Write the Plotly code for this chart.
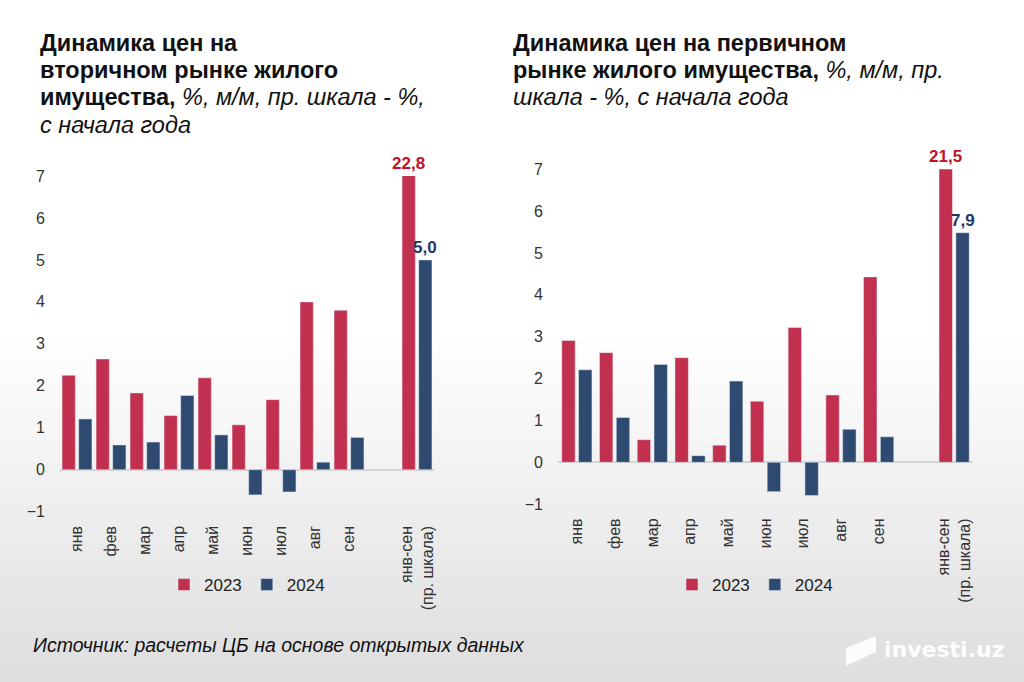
import plotly.graph_objects as go

# ---------------- data ----------------
months = ["янв", "фев", "мар", "апр", "май", "июн", "июл", "авг", "сен"]
total_label = "янв-сен<br>(пр. шкала)"
years = ["2023", "2024"]

# secondary market (left chart), % m/m
sec_2023 = [2.25, 2.64, 1.83, 1.29, 2.19, 1.07, 1.67, 4.00, 3.80]
sec_2024 = [1.21, 0.59, 0.66, 1.77, 0.83, -0.60, -0.53, 0.18, 0.77]
sec_cum = [22.8, 5.0]   # right scale, % since start of year

# primary market (right chart), % m/m
pri_2023 = [2.91, 2.62, 0.54, 2.50, 0.41, 1.46, 3.22, 1.61, 4.43]
pri_2024 = [2.21, 1.07, 2.34, 0.16, 1.94, -0.70, -0.79, 0.79, 0.61]
pri_cum = [21.5, 7.9]

y_ticks = [-1, 0, 1, 2, 3, 4, 5, 6, 7]

left_title = ["<b>Динамика цен на</b>",
              "<b>вторичном рынке жилого</b>",
              "<b>имущества,</b> <i>%, м/м, пр. шкала - %,</i>",
              "<i>с начала года</i>"]
right_title = ["<b>Динамика цен на первичном</b>",
               "<b>рынке жилого имущества,</b> <i>%, м/м, пр.</i>",
               "<i>шкала - %, с начала года</i>"]
source_text = "<i>Источник: расчеты ЦБ на основе открытых данных</i>"

# ---------------- style ----------------
RED = "#c1304f"
BLUE = "#2e4a70"
RED_TXT = "#c0102a"
BLUE_TXT = "#1f3566"
FONT = "Liberation Sans, Arial, sans-serif"
W, H = 1024, 682

def px_x(v):
    return v / W

def px_y(v):
    return 1 - v / H

Y_RANGE = [-1, 7]
SEC_SCALE_L = 1.0    # secondary (cumulative) axis scale, left chart
SEC_SCALE_R = 1.44   # secondary (cumulative) axis scale, right chart

fig = go.Figure()

# background gradient (white top -> light grey bottom)
n_strips = 40
top_px, bot_px = 330, H
for i in range(n_strips):
    t = i / (n_strips - 1)
    c = int(round(255 - t * (255 - 222)))
    y0 = top_px + (bot_px - top_px) * i / n_strips
    y1 = top_px + (bot_px - top_px) * (i + 1) / n_strips + 1
    fig.add_shape(type="rect", xref="paper", yref="paper", x0=0, x1=1,
                  y0=px_y(y1), y1=px_y(y0), fillcolor=f"rgb({c},{c},{c})",
                  line=dict(width=0), layer="below")

pos = list(range(len(months)))
total_pos = len(months) + 1
x_range = [-0.5, total_pos + 0.5]

def add_chart(xref, yref, yref2, legend, m23, m24, cum, width, off_red, off_blue, sec_scale):
    fig.add_trace(go.Bar(x=pos, y=m23, name=years[0], marker_color=RED,
                         width=width, offset=off_red, xaxis=xref, yaxis=yref,
                         legend=legend, legendgroup=legend + "a", hoverinfo="y"))
    fig.add_trace(go.Bar(x=pos, y=m24, name=years[1], marker_color=BLUE,
                         width=width, offset=off_blue, xaxis=xref, yaxis=yref,
                         legend=legend, legendgroup=legend + "b", hoverinfo="y"))
    fig.add_trace(go.Bar(x=[total_pos], y=[cum[0]], name=years[0], marker_color=RED,
                         width=width, offset=off_red, xaxis=xref, yaxis=yref2,
                         legend=legend, legendgroup=legend + "a", showlegend=False,
                         hoverinfo="y"))
    fig.add_trace(go.Bar(x=[total_pos], y=[cum[1]], name=years[1], marker_color=BLUE,
                         width=width, offset=off_blue, xaxis=xref, yaxis=yref2,
                         legend=legend, legendgroup=legend + "b", showlegend=False,
                         hoverinfo="y"))
    y2max = Y_RANGE[1] * sec_scale
    for v, off, col in [(cum[0], off_red, RED_TXT), (cum[1], off_blue, BLUE_TXT)]:
        fig.add_annotation(x=total_pos + off + width / 2, y=min(v, y2max),
                           xref=xref, yref=yref2, yanchor="bottom", showarrow=False,
                           text=f"<b>{v:.1f}</b>".replace(".", ","),
                           font=dict(family=FONT, size=17, color=col), yshift=1)

add_chart("x", "y", "y2", "legend", sec_2023, sec_2024, sec_cum,
          0.39, -0.44, 0.05, SEC_SCALE_L)
add_chart("x2", "y3", "y4", "legend2", pri_2023, pri_2024, pri_cum,
          0.355, -0.40, 0.045, SEC_SCALE_R)

tick_font = dict(family=FONT, size=16, color="#333333")
xaxis_common = dict(range=x_range, tickvals=pos + [total_pos], ticktext=months + [total_label],
                    tickangle=-90, tickfont=tick_font, showgrid=False, showline=False,
                    zeroline=False, ticks="", fixedrange=True, ticklabelstandoff=10,
                    automargin=False)
yaxis_common = dict(range=Y_RANGE, tickvals=y_ticks, tickfont=tick_font, showgrid=False,
                    zeroline=True, zerolinecolor="#d4d4d4", zerolinewidth=1.5,
                    showline=False, ticks="", ticklabelstandoff=14, automargin=False)
legend_common = dict(orientation="h", yanchor="middle", xanchor="center",
                     font=dict(family=FONT, size=17, color="#222222"),
                     bgcolor="rgba(0,0,0,0)", itemwidth=30, traceorder="normal")

fig.update_layout(
    width=W, height=H, autosize=False,
    margin=dict(l=0, r=0, t=0, b=0, pad=0),
    paper_bgcolor="white", plot_bgcolor="rgba(0,0,0,0)",
    barmode="overlay", showlegend=True,
    font=dict(family=FONT, color="#222222"),
    xaxis=dict(domain=[px_x(60), px_x(434)], anchor="y", **xaxis_common),
    yaxis=dict(domain=[px_y(511.7), px_y(176)], anchor="x", **yaxis_common),
    yaxis2=dict(range=[v * SEC_SCALE_L for v in Y_RANGE], overlaying="y", anchor="x",
                side="right", visible=False, showgrid=False, zeroline=False),
    xaxis2=dict(domain=[px_x(558), px_x(973)], anchor="y3", **xaxis_common),
    yaxis3=dict(domain=[px_y(504.2), px_y(169.3)], anchor="x2", **yaxis_common),
    yaxis4=dict(range=[v * SEC_SCALE_R for v in Y_RANGE], overlaying="y3", anchor="x2",
                side="right", visible=False, showgrid=False, zeroline=False),
    legend=dict(x=px_x(247), y=px_y(585), **legend_common),
    legend2=dict(x=px_x(755), y=px_y(585), **legend_common),
)

title_font = dict(family=FONT, size=23.5, color="#111111")
line_ys = [42.7, 70.1, 97.5, 124.9]
for line, ly in zip(left_title, line_ys):
    fig.add_annotation(xref="paper", yref="paper", x=px_x(38), y=px_y(ly),
                       xanchor="left", yanchor="middle", align="left", showarrow=False,
                       font=title_font, text=line)
for line, ly in zip(right_title, line_ys):
    fig.add_annotation(xref="paper", yref="paper", x=px_x(511), y=px_y(ly),
                       xanchor="left", yanchor="middle", align="left", showarrow=False,
                       font=title_font, text=line)

# source note
fig.add_annotation(
    xref="paper", yref="paper", x=px_x(31), y=px_y(645), xanchor="left", yanchor="middle",
    showarrow=False, font=dict(family=FONT, size=19.5, color="#111111"), text=source_text)

# watermark
fig.add_shape(type="path", xref="paper", yref="paper",
              path=f"M {px_x(846)} {px_y(648)} L {px_x(876)} {px_y(636)} L {px_x(876)} {px_y(652)} "
                   f"L {px_x(846)} {px_y(666)} Z",
              fillcolor="white", line=dict(width=0), opacity=0.9)
fig.add_annotation(
    xref="paper", yref="paper", x=px_x(882), y=px_y(649), xanchor="left", yanchor="middle",
    showarrow=False, font=dict(family="DejaVu Sans, sans-serif", size=22, color="white"),
    text="<b>investi.uz</b>", opacity=0.95)

fig.write_html(
    "out.html",
    config={"displayModeBar": False, "responsive": False},
    post_script=("document.documentElement.style.margin='0';"
                 "document.documentElement.style.overflow='hidden';"
                 "document.body.style.margin='0';document.body.style.padding='0';"
                 "document.body.style.overflow='hidden';"))
